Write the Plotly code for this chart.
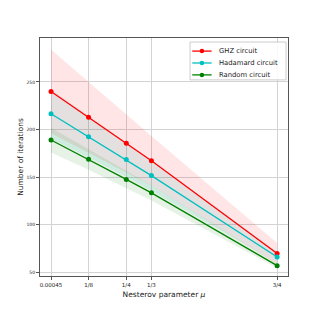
import plotly.graph_objects as go

mu = [0.00045, 1/8, 1/4, 1/3, 3/4]
mu_labels = ["0.00045", "1/8", "1/4", "1/3", "3/4"]

ghz_mean = [240, 212.8, 185.6, 167.3, 69.7]
ghz_std = [44, 37, 30.5, 26, 11]

hadamard_mean = [216.6, 192.5, 168.4, 151.6, 66]
hadamard_std = [26, 22, 18, 16, 6]

random_mean = [189, 168.7, 147.6, 133.5, 57]
random_std = [13, 11, 9, 8, 2.5]

series = [
    ("GHZ circuit", ghz_mean, ghz_std, "#ff0000", "rgba(255,0,0,0.1)"),
    ("Hadamard circuit", hadamard_mean, hadamard_std, "#00bfbf", "rgba(0,191,191,0.1)"),
    ("Random circuit", random_mean, random_std, "#008000", "rgba(0,128,0,0.1)"),
]

fig = go.Figure()

# shaded bands first
for name, m, s, col, fillcol in series:
    upper = [a + b for a, b in zip(m, s)]
    lower = [a - b for a, b in zip(m, s)]
    fig.add_trace(go.Scatter(
        x=mu + mu[::-1], y=upper + lower[::-1],
        fill="toself", fillcolor=fillcol, line=dict(width=0),
        mode="lines", hoverinfo="skip", showlegend=False,
    ))

for name, m, s, col, fillcol in series:
    fig.add_trace(go.Scatter(
        x=mu, y=m, mode="lines+markers", name=name,
        line=dict(color=col, width=1.3),
        marker=dict(color=col, size=5),
        showlegend=False,
    ))

# compact legend box (plotly's own legend rows are too tall at this size)
fig.add_shape(type="rect", xref="paper", yref="paper",
              x0=0.605, x1=0.992, y0=0.824, y1=0.983,
              line=dict(color="#cccccc", width=1), fillcolor="rgba(255,255,255,0.85)")
row_y = [0.945, 0.895, 0.845]
for (name, m, s, col, fillcol), yy in zip(series, row_y):
    fig.add_shape(type="line", xref="paper", yref="paper",
                  x0=0.614, x1=0.692, y0=yy, y1=yy, line=dict(color=col, width=1.3))
    fig.add_shape(type="circle", xref="paper", yref="paper",
                  x0=0.653 - 0.009, x1=0.653 + 0.009, y0=yy - 0.0094, y1=yy + 0.0094,
                  line=dict(color=col, width=0), fillcolor=col)
    fig.add_annotation(x=0.712, y=yy, xref="paper", yref="paper", text=name,
                       showarrow=False, xanchor="left", yanchor="middle",
                       font=dict(size=6.8, color="#222222"))

axis_common = dict(
    showline=True, linecolor="#555555", linewidth=1, mirror=True,
    showgrid=True, gridcolor="#d3d3d3", gridwidth=1,
    ticks="outside", ticklen=3, tickcolor="#555555", zeroline=False,
    automargin=False,
)

# page body adds ~8px offset, so the figure is a bit smaller than the window
fig.update_layout(
    width=312, height=312,
    margin=dict(l=32, r=32, t=30, b=44),
    paper_bgcolor="white", plot_bgcolor="white",
    font=dict(family="DejaVu Sans", color="#222222"),
    xaxis=dict(
        range=[-0.036, 0.786], tickvals=mu, ticktext=mu_labels,
        tickfont=dict(size=5.5),
        title=dict(text="Nesterov parameter <i>μ</i>", font=dict(size=7.5), standoff=5),
        **axis_common,
    ),
    yaxis=dict(
        range=[46.1, 296.2], tickvals=[50, 100, 150, 200, 250],
        tickfont=dict(size=4.5),
        title=dict(text="Number of iterations", font=dict(size=7.5), standoff=1),
        **axis_common,
    ),
    showlegend=False,
)

fig.write_html("out.html")
